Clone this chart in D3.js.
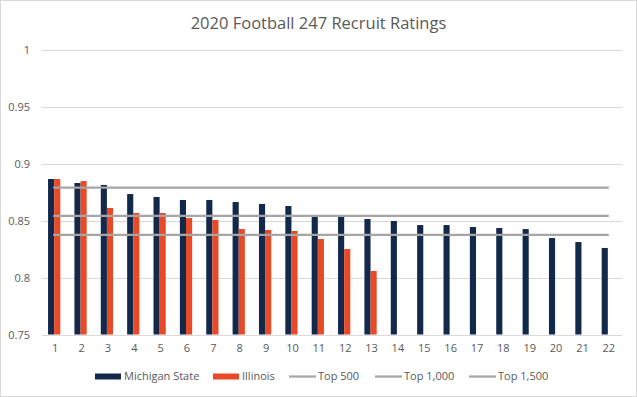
<!DOCTYPE html>
<html>
<head>
<meta charset="utf-8">
<script src="https://cdn.jsdelivr.net/npm/d3@7"></script>
<style>
  body { margin: 0; background: #fff; }
  svg text { font-family: "Open Sans", "Noto Sans", sans-serif; fill: #595959; }
</style>
</head>
<body>
<svg id="chart" width="637" height="397"></svg>
<script>
// Data
const recruits = d3.range(1, 23);
const michiganState = [0.8864, 0.8829, 0.8812, 0.8732, 0.8706, 0.868, 0.868, 0.8662, 0.8645, 0.8627,
    0.8533, 0.8533, 0.8513, 0.8496, 0.846, 0.846, 0.8443, 0.8434, 0.8425, 0.8346, 0.8311, 0.8259];
const illinois = [0.8864, 0.8846, 0.861, 0.8566, 0.8566, 0.8522, 0.8504, 0.8425, 0.8417, 0.8408,
    0.8338, 0.825, 0.8057];
const top500 = 0.8788;
const top1000 = 0.854;
const top1500 = 0.8375;
const yTicks = [0.75, 0.8, 0.85, 0.9, 0.95, 1];

const barSeries = [
    { name: 'Michigan State', values: michiganState, color: '#13294b' },
    { name: 'Illinois', values: illinois, color: '#e84a27' }
];
const lineSeries = [
    { name: 'Top 500', value: top500 },
    { name: 'Top 1,000', value: top1000 },
    { name: 'Top 1,500', value: top1500 }
];

const svg = d3.select('#chart');
const width = 637, height = 397;
const margin = { top: 49.5, right: 15, bottom: 62.5, left: 42 };

// Chart border
svg.append('rect')
    .attr('x', 0.5).attr('y', 0.5)
    .attr('width', width - 1).attr('height', height - 1)
    .attr('fill', '#fff')
    .attr('stroke', '#d9d9d9');

// Title
svg.append('text')
    .attr('x', 318.5).attr('y', 28.5)
    .attr('text-anchor', 'middle')
    .style('font-size', '16.5px')
    .text('2020 Football 247 Recruit Ratings');

const x = d3.scaleBand()
    .domain(recruits)
    .range([margin.left, width - margin.right]);

const x1 = d3.scaleBand()
    .domain(barSeries.map(s => s.name))
    .range([-1, x.bandwidth() - 1])
    .paddingInner(0)
    .paddingOuter(1.15);

const y = d3.scaleLinear()
    .domain([0.75, 1])
    .range([height - margin.bottom, margin.top]);

// Gridlines
svg.append('g')
    .selectAll('line')
    .data(yTicks)
    .enter().append('line')
    .attr('x1', margin.left)
    .attr('x2', width - margin.right)
    .attr('y1', d => Math.round(y(d)) + 0.5)
    .attr('y2', d => Math.round(y(d)) + 0.5)
    .attr('stroke', '#d9d9d9')
    .attr('stroke-width', 1);

// Y axis labels
const yAxis = svg.append('g')
    .attr('transform', `translate(${margin.left},0)`)
    .call(d3.axisLeft(y).tickValues(yTicks).tickSize(0).tickPadding(12).tickFormat(d => String(d)));
yAxis.select('.domain').remove();
yAxis.selectAll('text').style('font-size', '11px').attr('fill', '#595959');

// X axis labels
const xAxis = svg.append('g')
    .attr('transform', `translate(0,${height - margin.bottom})`)
    .call(d3.axisBottom(x).tickSize(0).tickPadding(10));
xAxis.select('.domain').remove();
xAxis.selectAll('text').style('font-size', '11px').attr('fill', '#595959');

// Bars
barSeries.forEach(series => {
    svg.append('g')
        .selectAll('rect')
        .data(series.values.map((v, i) => ({ rank: recruits[i], value: v })))
        .enter().append('rect')
        .attr('x', d => x(d.rank) + x1(series.name))
        .attr('width', x1.bandwidth())
        .attr('y', d => y(d.value))
        .attr('height', d => y(0.75) - y(d.value))
        .attr('fill', series.color);
});

// Reference lines (from first to last category centre)
svg.append('g')
    .selectAll('line')
    .data(lineSeries)
    .enter().append('line')
    .attr('x1', x(recruits[0]) + x.bandwidth() / 2 - 2)
    .attr('x2', x(recruits[recruits.length - 1]) + x.bandwidth() / 2)
    .attr('y1', d => y(d.value))
    .attr('y2', d => y(d.value))
    .attr('stroke', '#a5a5a5')
    .attr('stroke-width', 2.25);

// Legend
const legendItems = [
    { name: 'Michigan State', type: 'bar', color: '#13294b', x: 95 },
    { name: 'Illinois', type: 'bar', color: '#e84a27', x: 213 },
    { name: 'Top 500', type: 'line', color: '#a5a5a5', x: 289 },
    { name: 'Top 1,000', type: 'line', color: '#a5a5a5', x: 375 },
    { name: 'Top 1,500', type: 'line', color: '#a5a5a5', x: 469 }
];
const legendY = 376.5;
const legend = svg.append('g')
    .selectAll('g')
    .data(legendItems)
    .enter().append('g')
    .attr('transform', d => `translate(${d.x},${legendY})`);

legend.filter(d => d.type === 'bar').append('rect')
    .attr('x', 0).attr('y', -3)
    .attr('width', 26).attr('height', 6)
    .attr('fill', d => d.color);

legend.filter(d => d.type === 'line').append('line')
    .attr('x1', 0).attr('x2', 27)
    .attr('y1', 0).attr('y2', 0)
    .attr('stroke', d => d.color)
    .attr('stroke-width', 2.25);

legend.append('text')
    .attr('x', 29)
    .attr('dy', '0.35em')
    .style('font-size', '11px')
    .text(d => d.name);
</script>
</body>
</html>
